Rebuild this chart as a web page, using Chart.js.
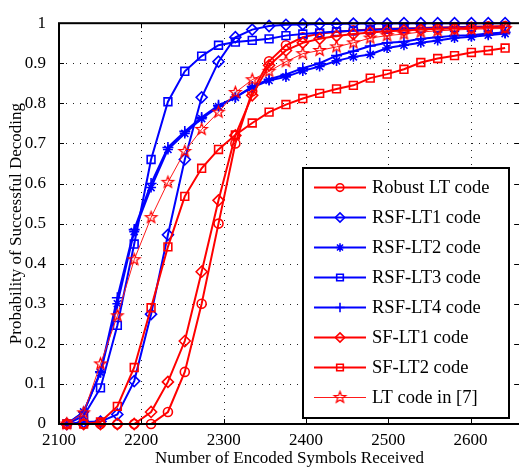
<!DOCTYPE html>
<html><head><meta charset="utf-8">
<script src="https://cdn.jsdelivr.net/npm/chart.js@4/dist/chart.umd.min.js"></script>
<style>
html,body{margin:0;padding:0;background:#fff;overflow:hidden;width:519px;height:472px;}
#wrap{position:absolute;left:0;top:0;width:530px;height:472px;}
</style></head><body>
<div id="wrap"><canvas id="c"></canvas></div>
<script>
// ---- data ----
const xValues = [2109.44, 2129.92, 2150.4, 2170.88, 2191.36, 2211.84, 2232.32, 2252.8, 2273.28, 2293.76,
  2314.24, 2334.72, 2355.2, 2375.68, 2396.16, 2416.64, 2437.12, 2457.6, 2478.08, 2498.56,
  2519.04, 2539.52, 2560, 2580.48, 2600.96, 2621.44, 2641.92];
const robustLT = [0, 0, 0, 0, 0, 0, 0.03, 0.13, 0.30, 0.50, 0.70, 0.83, 0.905, 0.945, 0.965, 0.974, 0.978, 0.982, 0.984, 0.986, 0.987, 0.988, 0.989, 0.99, 0.991, 0.992, 0.993];
const rsfLT1 = [0, 0.005, 0.006, 0.024, 0.107, 0.274, 0.472, 0.66, 0.815, 0.904, 0.965, 0.984, 0.993, 0.996, 0.997, 0.998, 0.998, 0.999, 0.999, 0.999, 1, 1, 1, 1, 1, 1, 1];
const rsfLT2 = [0, 0.03, 0.128, 0.30, 0.48, 0.59, 0.685, 0.725, 0.762, 0.792, 0.815, 0.84, 0.857, 0.866, 0.881, 0.892, 0.906, 0.916, 0.922, 0.938, 0.945, 0.951, 0.957, 0.963, 0.966, 0.97, 0.974];
const rsfLT3 = [0, 0.02, 0.09, 0.246, 0.449, 0.66, 0.804, 0.88, 0.918, 0.945, 0.953, 0.957, 0.961, 0.969, 0.973, 0.976, 0.979, 0.981, 0.983, 0.985, 0.986, 0.987, 0.988, 0.989, 0.99, 0.99, 0.991];
const rsfLT4 = [0, 0.03, 0.13, 0.315, 0.485, 0.6, 0.69, 0.73, 0.765, 0.795, 0.815, 0.842, 0.86, 0.872, 0.888, 0.9, 0.919, 0.93, 0.943, 0.951, 0.954, 0.961, 0.965, 0.969, 0.97, 0.974, 0.977];
const sfLT1 = [0, 0, 0, 0, 0, 0.03, 0.105, 0.207, 0.38, 0.558, 0.72, 0.82, 0.895, 0.932, 0.951, 0.961, 0.968, 0.973, 0.977, 0.98, 0.982, 0.984, 0.986, 0.987, 0.988, 0.989, 0.99];
const sfLT2 = [0, 0, 0.005, 0.044, 0.141, 0.29, 0.442, 0.568, 0.638, 0.685, 0.721, 0.751, 0.778, 0.797, 0.812, 0.825, 0.836, 0.845, 0.863, 0.873, 0.885, 0.902, 0.912, 0.919, 0.927, 0.932, 0.938];
const ltRef7 = [0, 0.028, 0.15, 0.27, 0.41, 0.515, 0.603, 0.68, 0.735, 0.778, 0.827, 0.859, 0.88, 0.904, 0.924, 0.932, 0.941, 0.951, 0.963, 0.969, 0.973, 0.978, 0.981, 0.983, 0.985, 0.986, 0.987];
const seriesNames = ['Robust LT code', 'RSF-LT1 code', 'RSF-LT2 code', 'RSF-LT3 code', 'RSF-LT4 code', 'SF-LT1 code', 'SF-LT2 code', 'LT code in [7]'];
const xTicks = [2100, 2200, 2300, 2400, 2500, 2600];
const yTicks = [0, 0.1, 0.2, 0.3, 0.4, 0.5, 0.6, 0.7, 0.8, 0.9, 1];
const xLabel = 'Number of Encoded Symbols Received';
const yLabel = 'Probability of Successful Decoding';

const FONT = "'Liberation Serif','Times New Roman',serif";
const RED = '#ff0000', BLUE = '#0000ff';

function makeStar(color, r, lw) {
  const s = Math.ceil(2 * r + lw * 2 + 2);
  const cv = document.createElement('canvas'); cv.width = s; cv.height = s;
  const g = cv.getContext('2d');
  g.strokeStyle = color; g.lineWidth = lw; g.lineJoin = 'miter';
  g.beginPath();
  for (let k = 0; k < 10; k++) {
    const ang = -Math.PI / 2 + k * Math.PI / 5;
    const rr = k % 2 === 0 ? r : r * 0.42;
    const px = s / 2 + rr * Math.cos(ang), py = s / 2 + rr * Math.sin(ang);
    if (k === 0) g.moveTo(px, py); else g.lineTo(px, py);
  }
  g.closePath(); g.stroke();
  return cv;
}
const starImg = makeStar('#ff0000', 6, 1.3);

const seriesData = [robustLT, rsfLT1, rsfLT2, rsfLT3, rsfLT4, sfLT1, sfLT2, ltRef7];
const styles = [
  {c: RED, ps: 'circle', r: 4.5, lw: 2},
  {c: BLUE, ps: 'rectRot', r: 5.5, lw: 2},
  {c: BLUE, ps: 'star', r: 5, lw: 2},
  {c: BLUE, ps: 'rect', r: 5.5, lw: 2},
  {c: BLUE, ps: 'cross', r: 5.5, lw: 2},
  {c: RED, ps: 'rectRot', r: 5.5, lw: 2},
  {c: RED, ps: 'rect', r: 5.5, lw: 2},
  {c: '#ff1a1a', ps: starImg, r: 6, lw: 1}
];

const datasets = seriesData.map((arr, i) => ({
  label: seriesNames[i],
  data: arr.map((v, k) => ({x: xValues[k], y: v})),
  borderColor: styles[i].c,
  backgroundColor: 'rgba(0,0,0,0)',
  borderWidth: styles[i].lw,
  pointStyle: styles[i].ps,
  pointRadius: styles[i].r,
  pointBorderWidth: styles[i].lw === 1 ? 1 : 1.6,
  pointBorderColor: styles[i].c,
  pointBackgroundColor: 'rgba(0,0,0,0)',
  tension: 0,
  clip: false,
  order: 10 - i
}));

function drawMarker(ctx, style, r, x, y) {
  if (typeof style === 'object') { ctx.drawImage(style, x - style.width / 2, y - style.height / 2); return; }
  ctx.beginPath();
  if (style === 'circle') ctx.arc(x, y, r, 0, Math.PI * 2);
  else if (style === 'rect') { const s = Math.SQRT1_2 * r; ctx.rect(x - s, y - s, 2 * s, 2 * s); }
  else if (style === 'rectRot') { ctx.moveTo(x, y - r); ctx.lineTo(x + r, y); ctx.lineTo(x, y + r); ctx.lineTo(x - r, y); ctx.closePath(); }
  else if (style === 'cross') { ctx.moveTo(x - r, y); ctx.lineTo(x + r, y); ctx.moveTo(x, y - r); ctx.lineTo(x, y + r); }
  else if (style === 'star') {
    ctx.moveTo(x - r, y); ctx.lineTo(x + r, y); ctx.moveTo(x, y - r); ctx.lineTo(x, y + r);
    const d = r * Math.SQRT1_2; ctx.moveTo(x - d, y - d); ctx.lineTo(x + d, y + d); ctx.moveTo(x - d, y + d); ctx.lineTo(x + d, y - d);
  }
  ctx.stroke();
}

const framePlugin = {
  id: 'frame',
  beforeDatasetsDraw(chart) {
    const {ctx, chartArea: a, scales: {x, y}} = chart;
    ctx.save();
    ctx.strokeStyle = '#222'; ctx.lineWidth = 1; ctx.setLineDash([1, 6]);
    xTicks.forEach(v => {
      if (v === xTicks[0]) return;
      const px = Math.round(x.getPixelForValue(v)) + 0.5;
      ctx.beginPath(); ctx.moveTo(px, a.bottom); ctx.lineTo(px, a.top); ctx.stroke();
    });
    yTicks.forEach(v => {
      if (v === 0 || v === 1) return;
      const py = Math.round(y.getPixelForValue(v)) + 0.5;
      ctx.beginPath(); ctx.moveTo(a.left, py); ctx.lineTo(a.right, py); ctx.stroke();
    });
    ctx.restore();
  },
  afterDatasetsDraw(chart) {
    const {ctx, chartArea: a, scales: {x, y}} = chart;
    ctx.save();
    ctx.strokeStyle = '#000'; ctx.lineWidth = 1; ctx.setLineDash([]);
    const tl = 5;
    xTicks.forEach(v => {
      const px = Math.round(x.getPixelForValue(v)) + 0.5;
      ctx.beginPath(); ctx.moveTo(px, a.bottom); ctx.lineTo(px, a.bottom - tl);
      ctx.moveTo(px, a.top); ctx.lineTo(px, a.top + tl); ctx.stroke();
    });
    yTicks.forEach(v => {
      const py = Math.round(y.getPixelForValue(v)) + 0.5;
      ctx.beginPath(); ctx.moveTo(a.left, py); ctx.lineTo(a.left + tl, py);
      ctx.moveTo(a.right, py); ctx.lineTo(a.right - tl, py); ctx.stroke();
    });
    ctx.lineWidth = 2;
    ctx.strokeRect(a.left, a.top, a.right - a.left, a.bottom - a.top);
    ctx.restore();
  }
};

const legendPlugin = {
  id: 'boxLegend',
  afterDraw(chart) {
    const ctx = chart.ctx;
    const x0 = 303, y0 = 168, w = 206, h = 250;
    ctx.save();
    ctx.fillStyle = '#fff'; ctx.fillRect(x0, y0, w, h);
    ctx.lineWidth = 2; ctx.strokeStyle = '#000'; ctx.strokeRect(x0, y0, w, h);
    chart.data.datasets.forEach((ds, i) => {
      const yy = Math.round(186.7 + i * 30.1) + 0.5;
      ctx.strokeStyle = ds.borderColor; ctx.lineWidth = ds.borderWidth;
      ctx.beginPath(); ctx.moveTo(314, yy); ctx.lineTo(366, yy); ctx.stroke();
      ctx.lineWidth = ds.pointBorderWidth;
      drawMarker(ctx, ds.pointStyle, ds.pointRadius * 0.85, 340, yy);
      ctx.fillStyle = '#000';
      ctx.font = '18.5px ' + FONT;
      ctx.textBaseline = 'middle'; ctx.textAlign = 'left';
      ctx.fillText(ds.label, 372, yy + 1);
    });
    ctx.restore();
  }
};

new Chart(document.getElementById('c'), {
  type: 'line',
  data: {datasets},
  options: {
    responsive: true, maintainAspectRatio: false, animation: false, devicePixelRatio: 1,
    layout: {padding: {top: 14, right: 10, left: 0, bottom: 0}},
    plugins: {legend: {display: false}, tooltip: {enabled: false}},
    scales: {
      x: {
        type: 'linear', min: 2100, max: 2660,
        grid: {display: false, drawTicks: false}, border: {display: false},
        afterFit: s => { s.height = 48; },
        afterBuildTicks: s => { s.ticks = xTicks.map(v => ({value: v})); },
        ticks: {padding: 6, color: '#000', font: {family: FONT, size: 17}, maxRotation: 0, autoSkip: false,
          callback: v => String(v)},
        title: {display: true, text: xLabel, color: '#000', font: {family: FONT, size: 17}, padding: {bottom: 3}}
      },
      y: {
        type: 'linear', min: 0, max: 1,
        grid: {display: false, drawTicks: false}, border: {display: false},
        afterFit: s => { s.width = 59; },
        afterBuildTicks: s => { s.ticks = yTicks.map(v => ({value: v})); },
        ticks: {padding: 13, color: '#000', font: {family: FONT, size: 17},
          callback: v => (v === 0 ? '0' : v === 1 ? '1' : v.toFixed(1))},
        title: {display: true, text: yLabel, color: '#000', font: {family: FONT, size: 17}, padding: {top: 6}}
      }
    }
  },
  plugins: [framePlugin, legendPlugin]
});
</script>
</body></html>
